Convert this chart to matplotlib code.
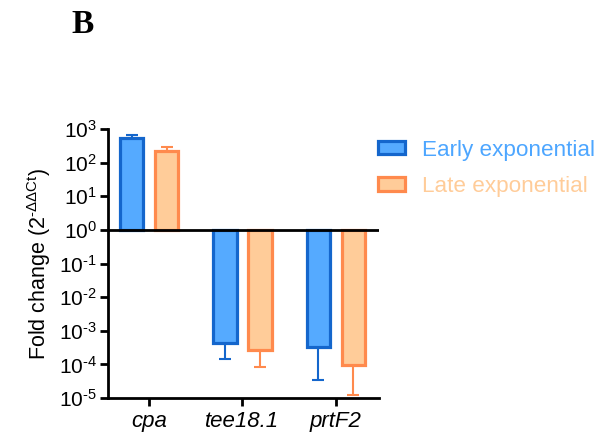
import matplotlib
matplotlib.use("Agg")
import matplotlib.pyplot as plt
import matplotlib.patches as mpatches
import numpy as np

plt.rcParams['font.family'] = ['Liberation Sans', 'DejaVu Sans']
plt.rcParams['mathtext.fontset'] = 'custom'
plt.rcParams['mathtext.rm'] = 'Liberation Sans'
plt.rcParams['mathtext.it'] = 'Liberation Sans:italic'
plt.rcParams['mathtext.bf'] = 'Liberation Sans:bold'

genes = ['cpa', 'tee18.1', 'prtF2']
series = ['Early exponential', 'Late exponential']
early_mean = [540, 4.2e-4, 3.2e-4]
early_err = [680, 1.4e-4, 3.5e-5]     # end point of the error bar
late_mean = [220, 2.75e-4, 9.4e-5]
late_err = [290, 8.2e-5, 1.2e-5]
ytick_exps = [3, 2, 1, 0, -1, -2, -3, -4, -5]

fills = ['#55AAFF', '#FFCC99']
edges = ['#1466CC', '#FF8A4D']
text_cols = ['#4DA6FF', '#FFCC99']

fig = plt.figure(figsize=(6.05, 4.45), dpi=100)
ax = fig.add_axes([0.1785, 0.1056, 0.4475, 0.6045])

x = np.arange(len(genes))
width = 0.25
offset = 0.187

for i, (means, ends) in enumerate([(early_mean, early_err), (late_mean, late_err)]):
    xs = x + (-offset if i == 0 else offset)
    means = np.array(means)
    ends = np.array(ends)
    ax.bar(xs, means - 1, bottom=1, width=width, color=fills[i],
           edgecolor=edges[i], linewidth=2.3, zorder=2)
    lower = np.where(means < 1, means - ends, 0)
    upper = np.where(means >= 1, ends - means, 0)
    ax.errorbar(xs, means, yerr=[lower, upper], fmt='none', ecolor=edges[i],
                elinewidth=1.5, capsize=4.5, capthick=1.5, zorder=1)

ax.set_yscale('log')
ax.set_ylim(1e-5, 1e3)
ax.set_xlim(-0.44, 2.46)
ax.set_yticks([10.0**e for e in ytick_exps])
ax.set_yticklabels([r'$10^{\text{%d}}$' % e for e in ytick_exps], fontsize=15)
ax.minorticks_off()
ax.set_xticks(x)
ax.set_xticklabels(genes, fontsize=16, style='italic')
ax.axhline(1, color='black', linewidth=2, zorder=3)

for s in ['top', 'right']:
    ax.spines[s].set_visible(False)
for s in ['left', 'bottom']:
    ax.spines[s].set_linewidth(2)
ax.tick_params(axis='both', width=2, length=6, direction='out')
ax.tick_params(axis='y', pad=2)
ax.set_ylabel(r'Fold change (2$^{\text{-ΔΔCt}}$)', fontsize=15.5, labelpad=4)

handles = [mpatches.Patch(facecolor=fills[i], edgecolor=edges[i], linewidth=2.3) for i in range(2)]
leg = fig.legend(handles, series, loc='upper left', bbox_to_anchor=(0.5915, 0.732),
                 frameon=False, fontsize=16.2, handlelength=1.2, handleheight=0.55,
                 labelspacing=0.68, handletextpad=0.75)
for t, c in zip(leg.get_texts(), text_cols):
    t.set_color(c)

fig.text(0.118, 0.946, 'B', fontsize=24, fontweight='bold', family='Liberation Serif',
         ha='left', va='center')

fig.savefig('out.png', dpi=100)
